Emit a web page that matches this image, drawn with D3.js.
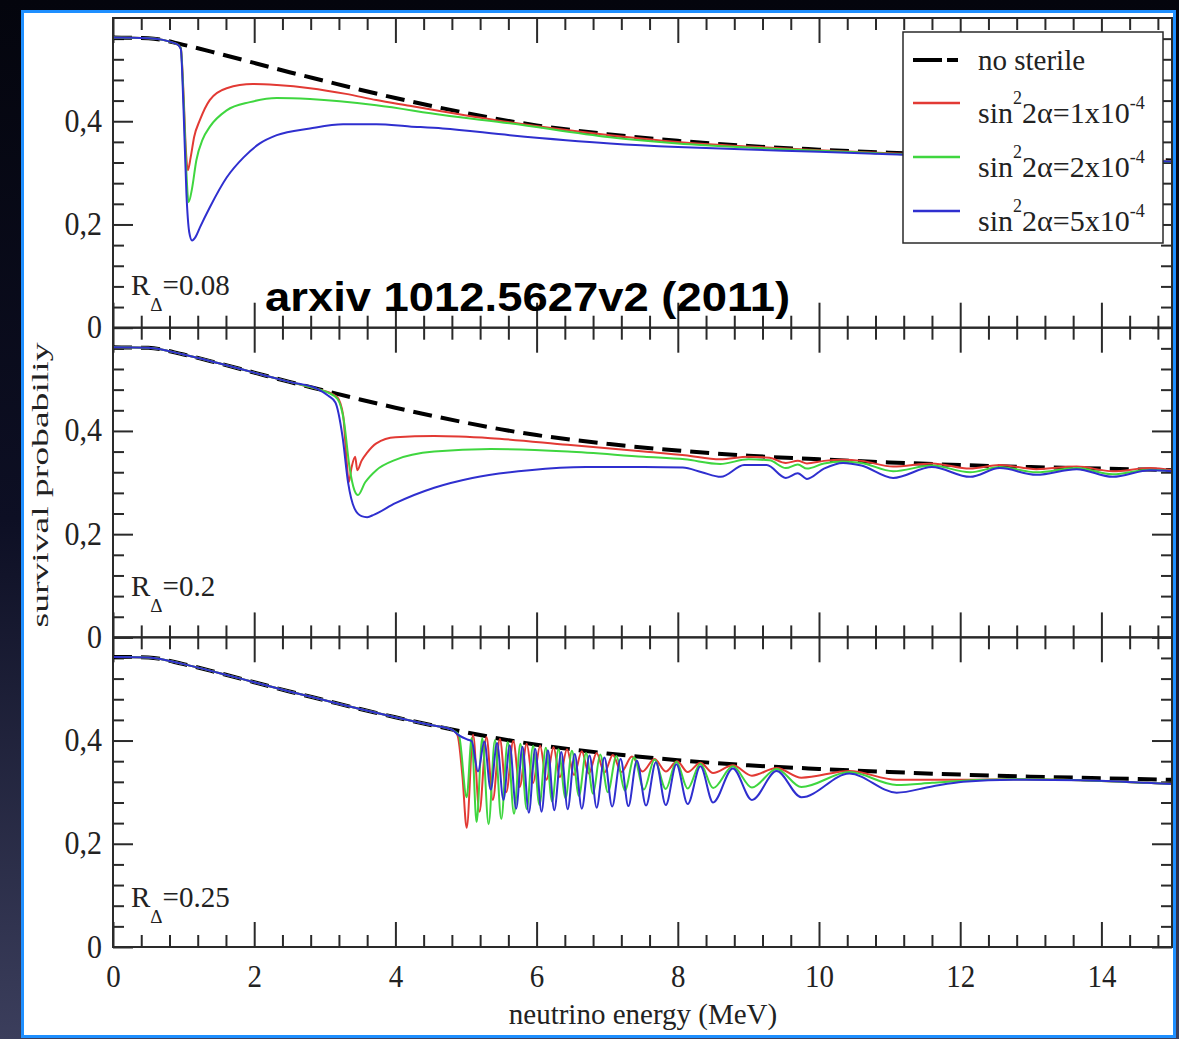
<!DOCTYPE html>
<html><head><meta charset="utf-8">
<script src="https://cdn.jsdelivr.net/npm/d3@7"></script>
<style>html,body{margin:0;padding:0;background:#000;} svg{display:block}</style>
</head><body>
<svg id="c" width="1179" height="1039"></svg>
<script>
// ---------------- data ----------------
const energyMajorTicks = [0, 2, 4, 6, 8, 10, 12, 14];
const probMajorTicks = [0, 0.2, 0.4];
const panelR = ["0.08", "0.2", "0.25"];
const legendCoeffs = ["1", "2", "5"];
const seriesNames = ["no sterile", "red", "green", "blue"];

const noSterile = [[0,.562],[0.5,.561],[1,.548],[1.5,.531],[2,.513],[2.5,.495],[3,.478],[3.5,.461],[4,.445],[4.5,.43],[5,.416],[5.5,.403],[6,.392],[7,.375],[8,.362],[9,.352],[10,.345],[11,.339],[12,.334],[13,.33],[14,.327],[15,.324]];

// panel 1  (R_Delta = 0.08)
const p1Red = [[0,.562],[0.5,.561],[0.9,.55],[0.96,.542],[1.0,.45],[1.03,.35],[1.06,.305],[1.1,.33],[1.15,.37],[1.23,.402],[1.37,.441],[1.61,.464],[1.98,.472],[2.32,.47],[2.79,.464],[3.3,.453],[3.73,.441],[4.2,.43],[4.67,.419],[5.62,.398],[7.04,.373],[8,.36],[9,.351],[10,.344],[11,.338],[12,.333],[13,.329],[14,.326],[15,.323]];
const p1Green = [[0,.562],[0.5,.561],[0.9,.55],[0.96,.542],[1.0,.44],[1.04,.3],[1.07,.243],[1.12,.27],[1.18,.324],[1.27,.365],[1.37,.389],[1.61,.421],[1.94,.437],[2.32,.445],[2.79,.443],[3.73,.431],[4.67,.412],[5.62,.396],[7.04,.369],[8,.357],[9,.349],[10,.343],[11,.337],[12,.332],[13,.328],[14,.325],[15,.322]];
const p1Blue = [[0,.562],[0.5,.561],[0.9,.55],[0.96,.54],[1.0,.42],[1.04,.26],[1.08,.185],[1.12,.169],[1.17,.176],[1.23,.194],[1.37,.233],[1.61,.291],[1.85,.33],[2.08,.357],[2.32,.373],[2.79,.386],[3.26,.394],[3.73,.394],[4.2,.39],[4.67,.386],[5.62,.373],[7.04,.357],[8,.35],[9,.345],[10,.341],[11,.336],[12,.332],[13,.328],[14,.325],[15,.322]];

// panel 2  (R_Delta = 0.2)
const p2Lead = [[0,.562],[0.5,.561],[1,.548],[1.5,.531],[2,.513],[2.5,.495],[2.9,.481]];
const p2Red = p2Lead.concat([[3.05,.475],[3.18,.465],[3.26,.43],[3.31,.34],[3.34,.301],[3.38,.33],[3.43,.35],[3.46,.324],[3.52,.342],[3.6,.358],[3.73,.376],[4.0,.388],[4.55,.39],[5.35,.386],[6.44,.373],[7.52,.36],[8.1,.353],[8.6,.345],[9.0,.35],[9.3,.348],[9.53,.338],[9.7,.342],[9.83,.337],[10.07,.342],[10.34,.344],[10.6,.342],[11.05,.331],[11.6,.337],[12.14,.327],[12.56,.334],[13.08,.326],[13.65,.331],[14.16,.322],[14.69,.328],[15,.324]]);
const p2Green = p2Lead.concat([[3.05,.474],[3.18,.462],[3.27,.42],[3.35,.33],[3.42,.285],[3.47,.276],[3.57,.3],[3.73,.324],[4.0,.344],[4.55,.36],[5.35,.365],[6.44,.36],[7.52,.35],[8.1,.345],[8.6,.336],[9.0,.345],[9.3,.343],[9.53,.328],[9.7,.335],[9.83,.327],[10.07,.337],[10.34,.341],[10.6,.338],[11.05,.322],[11.6,.333],[12.14,.32],[12.56,.33],[13.08,.32],[13.65,.328],[14.16,.316],[14.69,.325],[15,.322]]);
const p2Blue = p2Lead.concat([[3.05,.468],[3.15,.455],[3.25,.39],[3.33,.3],[3.42,.25],[3.52,.235],[3.6,.233],[3.7,.238],[4.0,.26],[4.55,.29],[5.09,.309],[5.9,.324],[6.7,.33],[7.52,.33],[8.07,.329],[8.34,.32],[8.61,.311],[8.94,.334],[9.26,.334],[9.53,.309],[9.7,.318],[9.83,.307],[10.07,.327],[10.34,.338],[10.6,.333],[11.05,.309],[11.6,.33],[12.14,.311],[12.56,.328],[13.08,.315],[13.65,.326],[14.16,.311],[14.69,.324],[15,.322]]);

// panel 3  (R_Delta = 0.25)
const p3Lead = [[0,.562],[0.5,.561],[1,.548],[1.5,.531],[2,.513],[2.5,.495],[3,.478],[3.5,.461],[4,.445],[4.5,.43],[4.8,.421]];
const p3Red = p3Lead.concat([[4.88,.41],[4.95,.33],[5.01,.231],[5.1,.411],[5.19,.262],[5.29,.407],[5.38,.285],[5.48,.403],[5.57,.30],[5.67,.399],[5.76,.31],[5.86,.394],[5.95,.318],[6.05,.39],[6.14,.324],[6.24,.387],[6.33,.329],[6.43,.383],[6.53,.333],[6.64,.379],[6.74,.336],[6.85,.376],[6.96,.338],[7.08,.372],[7.2,.339],[7.35,.369],[7.5,.34],[7.67,.364],[7.83,.34],[7.99,.36],[8.14,.339],[8.32,.357],[8.5,.337],[8.78,.352],[9.05,.332],[9.4,.347],[9.75,.328],[10.43,.341],[11.1,.324],[11.6,.324],[12.04,.324],[12.75,.325],[13.7,.323],[14.65,.318],[15,.316]]);
const p3Green = p3Lead.concat([[4.9,.41],[5.01,.29],[5.08,.405],[5.15,.242],[5.23,.405],[5.32,.238],[5.41,.401],[5.5,.248],[5.59,.397],[5.68,.258],[5.77,.394],[5.86,.267],[5.95,.39],[6.04,.275],[6.13,.386],[6.22,.282],[6.31,.383],[6.41,.288],[6.5,.38],[6.6,.293],[6.7,.376],[6.8,.297],[6.9,.373],[7.01,.30],[7.13,.37],[7.25,.303],[7.38,.367],[7.52,.305],[7.67,.363],[7.83,.306],[7.98,.359],[8.14,.307],[8.32,.355],[8.5,.308],[8.78,.35],[9.05,.309],[9.4,.345],[9.75,.31],[10.43,.339],[11.1,.314],[11.6,.318],[12.04,.322],[12.75,.325],[13.7,.323],[14.65,.318],[15,.316]]);
const p3Blue = p3Lead.concat([[4.9,.41],[5.02,.402],[5.08,.399],[5.17,.34],[5.26,.398],[5.35,.305],[5.44,.395],[5.53,.285],[5.62,.391],[5.71,.268],[5.8,.388],[5.89,.26],[5.98,.384],[6.07,.262],[6.16,.381],[6.25,.265],[6.35,.378],[6.44,.267],[6.54,.374],[6.64,.268],[6.75,.371],[6.85,.27],[6.96,.367],[7.07,.272],[7.19,.364],[7.3,.273],[7.42,.361],[7.55,.274],[7.69,.358],[7.83,.275],[7.98,.354],[8.14,.277],[8.32,.35],[8.5,.28],[8.78,.346],[9.05,.285],[9.4,.341],[9.75,.29],[10.43,.336],[11.1,.299],[11.6,.311],[12.04,.32],[12.75,.324],[13.7,.323],[14.65,.318],[15,.316]]);

const panelsData = [
  {r: panelR[0], red: p1Red, green: p1Green, blue: p1Blue},
  {r: panelR[1], red: p2Red, green: p2Green, blue: p2Blue},
  {r: panelR[2], red: p3Red, green: p3Green, blue: p3Blue}
];

// ---------------- layout ----------------
const W = 1179, Hh = 1039;
const left = 113, right = 1172;
const panelTops = [18, 327.7, 637.3];
const PH = 309.7;
const serif = "'Liberation Serif','Times New Roman',serif";
const frameCol = "#2a2a2a";
const colors = {red: "#e23a34", green: "#3fd63f", blue: "#2f2fcf"};

const svg = d3.select("#c");
const defs = svg.append("defs");
const g1 = defs.append("linearGradient").attr("id","bg").attr("x1",0).attr("y1",0).attr("x2",0).attr("y2",1);
g1.append("stop").attr("offset","0").attr("stop-color","#04050d");
g1.append("stop").attr("offset","0.5").attr("stop-color","#0d0f24");
g1.append("stop").attr("offset","1").attr("stop-color","#3b3e5c");
svg.append("rect").attr("width",W).attr("height",Hh).attr("fill","url(#bg)");
svg.append("rect").attr("x",22.5).attr("y",11.5).attr("width",1152).attr("height",1025)
  .attr("fill","#fff").attr("stroke","#1e8fff").attr("stroke-width",3);

const x = d3.scaleLinear().domain([0,15]).range([left,right]);
const xMinor = d3.range(0.4, 15, 0.4).filter(v => Math.abs(v/2 - Math.round(v/2)) > 1e-6);
const yMinor = d3.range(0.04, 0.6, 0.04).filter(v => Math.abs(v/0.2 - Math.round(v/0.2)) > 1e-6);
const fmtP = d => d === 0 ? "0" : d3.format(".1f")(d).replace(".", ",");

function styleAxis(sel){
  sel.select(".domain").remove();
  sel.selectAll("line").attr("stroke",frameCol).attr("stroke-width",2);
}

panelsData.forEach((pd, i) => {
  const top = panelTops[i], bot = top + PH;
  const y = d3.scaleLinear().domain([0,0.6]).range([bot, top]);
  const g = svg.append("g");

  // ticks (all inward)
  g.append("g").attr("transform",`translate(0,${bot})`).call(d3.axisBottom(x).tickValues(energyMajorTicks).tickSize(-25).tickFormat("")).call(styleAxis);
  g.append("g").attr("transform",`translate(0,${bot})`).call(d3.axisBottom(x).tickValues(xMinor).tickSize(-12).tickFormat("")).call(styleAxis);
  g.append("g").attr("transform",`translate(0,${top})`).call(d3.axisTop(x).tickValues(energyMajorTicks).tickSize(-25).tickFormat("")).call(styleAxis);
  g.append("g").attr("transform",`translate(0,${top})`).call(d3.axisTop(x).tickValues(xMinor).tickSize(-12).tickFormat("")).call(styleAxis);
  const la = g.append("g").attr("transform",`translate(${left},0)`).call(d3.axisLeft(y).tickValues(probMajorTicks).tickSize(-20).tickPadding(11).tickFormat(fmtP)).call(styleAxis);
  la.selectAll("text").attr("font-family",serif).attr("font-size",30).attr("fill","#222")
    .attr("dy",null).attr("x",null)
    .attr("transform","translate(-11,10) scale(1,1.12)");
  g.append("g").attr("transform",`translate(${left},0)`).call(d3.axisLeft(y).tickValues(yMinor).tickSize(-11).tickFormat("")).call(styleAxis);
  g.append("g").attr("transform",`translate(${right},0)`).call(d3.axisRight(y).tickValues(probMajorTicks).tickSize(-20).tickFormat("")).call(styleAxis);
  g.append("g").attr("transform",`translate(${right},0)`).call(d3.axisRight(y).tickValues(yMinor).tickSize(-11).tickFormat("")).call(styleAxis);

  if (i === 2) {
    const ba = g.append("g").attr("transform",`translate(0,${bot})`).call(d3.axisBottom(x).tickValues(energyMajorTicks).tickSize(0).tickFormat(d3.format("d")));
    ba.select(".domain").remove();
    ba.selectAll("text").attr("font-family",serif).attr("font-size",29).attr("fill","#222")
      .attr("y",null).attr("dy",null).attr("transform","translate(0,40) scale(1,1.12)");
  }

  // curves
  const line = d3.line().x(d => x(d[0])).y(d => y(d[1])).curve(d3.curveMonotoneX);
  g.append("path").datum(noSterile).attr("d",line).attr("fill","none").attr("stroke","#000").attr("stroke-width",4).attr("stroke-dasharray","19,9");
  ["red","green","blue"].forEach(k => {
    g.append("path").datum(pd[k]).attr("d",line).attr("fill","none").attr("stroke",colors[k]).attr("stroke-width",2).attr("stroke-linejoin","round");
  });

  // frame
  g.append("rect").attr("x",left).attr("y",top).attr("width",right-left).attr("height",PH)
    .attr("fill","none").attr("stroke",frameCol).attr("stroke-width",2);

  // R label
  const rOff = [32.7, 41, 40][i];
  const t = g.append("text").attr("x",131).attr("y",bot - rOff).attr("font-family",serif).attr("font-size",29).attr("fill","#222");
  t.append("tspan").text("R");
  t.append("tspan").attr("dy",16).attr("font-size",19).text("Δ");
  t.append("tspan").attr("dy",-16).text("=" + pd.r);
});

// legend
const lg = svg.append("g");
lg.append("rect").attr("x",903).attr("y",32).attr("width",260).attr("height",211).attr("fill","#fff").attr("stroke",frameCol).attr("stroke-width",1.5);
lg.append("line").attr("x1",913).attr("x2",958).attr("y1",60).attr("y2",60).attr("stroke","#000").attr("stroke-width",4).attr("stroke-dasharray","29,5");
lg.append("text").attr("x",978).attr("y",70).attr("font-family",serif).attr("font-size",29).attr("fill","#222").text(seriesNames[0]);
["red","green","blue"].forEach((k, j) => {
  const ly = [103, 157, 211][j];
  const by = [123, 177, 231][j];
  lg.append("line").attr("x1",913).attr("x2",960).attr("y1",ly).attr("y2",ly).attr("stroke",colors[k]).attr("stroke-width",2.5);
  const t = lg.append("text").attr("x",978).attr("y",by).attr("font-family",serif).attr("font-size",30).attr("fill","#222");
  t.append("tspan").text("sin");
  t.append("tspan").attr("dy",-19).attr("font-size",18).text("2");
  t.append("tspan").attr("dy",19).text("2α=" + legendCoeffs[j] + "x10");
  t.append("tspan").attr("dy",-14).attr("font-size",18).text("-4");
});

// axis titles
svg.append("text").attr("x",643).attr("y",1024).attr("text-anchor","middle").attr("font-family",serif).attr("font-size",29).attr("fill","#222").text("neutrino energy (MeV)");
svg.append("text").attr("transform","translate(48,485) rotate(-90)").attr("text-anchor","middle").attr("font-family",serif).attr("font-size",24).attr("fill","#222")
  .attr("textLength",285).attr("lengthAdjust","spacingAndGlyphs").text("survival probabiliy");

// annotation
svg.append("text").attr("x",265).attr("y",311).attr("font-family","'Liberation Sans',Arial,sans-serif").attr("font-weight","bold").attr("font-size",40).attr("fill","#000")
  .attr("textLength",525).attr("lengthAdjust","spacingAndGlyphs").text("arxiv 1012.5627v2 (2011)");
</script>
</body></html>
